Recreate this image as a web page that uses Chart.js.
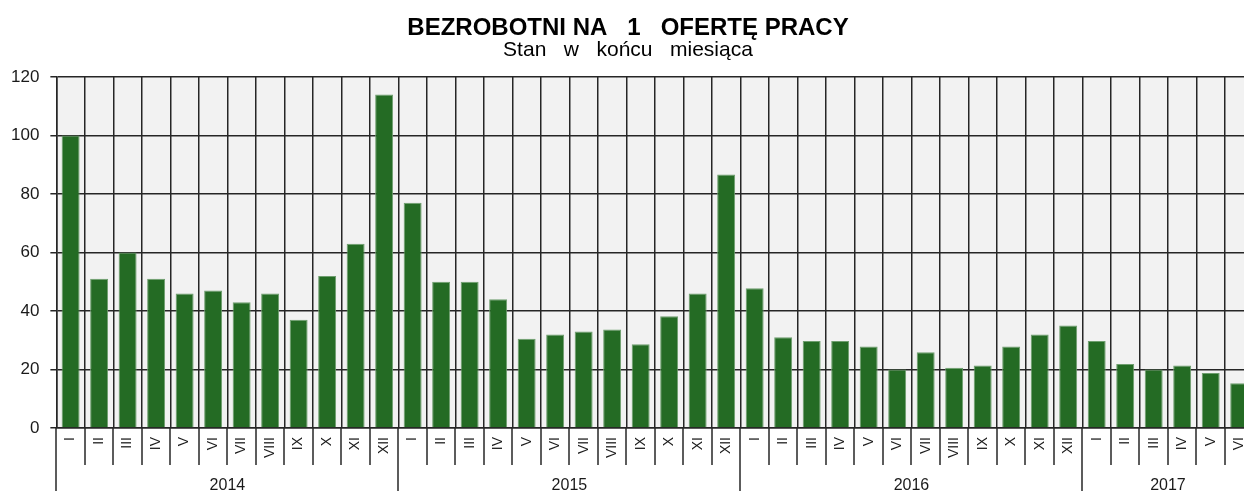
<!DOCTYPE html>
<html lang="pl">
<head>
<meta charset="utf-8">
<title>Bezrobotni na 1 ofertę pracy</title>
<script src="https://cdn.jsdelivr.net/npm/chart.js@4.4.1/dist/chart.umd.min.js"></script>
<style>
  html, body { margin: 0; padding: 0; background: #fff; overflow: hidden; }
  .frame { width: 1256px; height: 491px; position: relative; }
</style>
</head>
<body>
<div class="frame"><canvas id="chart"></canvas></div>
<script>
const romanMonths = ['I', 'II', 'III', 'IV', 'V', 'VI', 'VII', 'VIII', 'IX', 'X', 'XI', 'XII'];
const years = ['2014', '2015', '2016', '2017'];
const monthsPerYear = [12, 12, 12, 6];

const values2014 = [100, 51, 60, 51, 46, 47, 43, 46, 37, 52, 63, 114];
const values2015 = [77, 50, 50, 44, 30.5, 32, 33, 33.7, 28.6, 38.2, 46, 86.7];
const values2016 = [47.8, 31, 29.7, 29.7, 27.9, 20, 25.9, 20.6, 21.4, 27.9, 32, 35];
const values2017 = [29.7, 21.9, 20, 21.4, 18.8, 15.3];

const yMin = 0;
const yMax = 120;
const yStep = 20;

const GRID = '#262626';
const TEXT = '#1a1a1a';
const BAR = '#246b24';
const FONT = '"Liberation Sans", Arial, sans-serif';

const labels = years.flatMap((year, i) => romanMonths.slice(0, monthsPerYear[i]));
const values = [...values2014, ...values2015, ...values2016, ...values2017];

// grey plot background, painted before the grid
const plotBackground = {
  id: 'plotBackground',
  beforeDraw(chart) {
    const { ctx, chartArea } = chart;
    ctx.save();
    ctx.fillStyle = '#f2f2f2';
    ctx.fillRect(chartArea.left, chartArea.top, chartArea.right - chartArea.left, chartArea.bottom - chartArea.top);
    ctx.restore();
  }
};

// month separators below the axis, longer ones between years, year captions
const yearGroups = {
  id: 'yearGroups',
  afterDraw(chart) {
    const { ctx, chartArea, scales: { x } } = chart;
    const half = (x.getPixelForValue(1) - x.getPixelForValue(0)) / 2;
    const boundaries = new Set([0]);
    let count = 0;
    monthsPerYear.forEach(n => { count += n; boundaries.add(count); });

    ctx.save();
    ctx.strokeStyle = GRID;
    ctx.lineWidth = 1.5;
    for (let i = 0; i <= labels.length; i++) {
      const px = Math.round(x.getPixelForValue(i) - half);
      ctx.beginPath();
      ctx.moveTo(px, chartArea.bottom);
      ctx.lineTo(px, boundaries.has(i) ? chart.height : chartArea.bottom + 37);
      ctx.stroke();
    }

    ctx.fillStyle = TEXT;
    ctx.font = `16px ${FONT}`;
    ctx.textAlign = 'center';
    ctx.textBaseline = 'alphabetic';
    let start = 0;
    years.forEach((year, i) => {
      const end = start + monthsPerYear[i];
      const left = x.getPixelForValue(start) - half;
      const right = x.getPixelForValue(end - 1) + half;
      ctx.fillText(year, (left + right) / 2, chart.height - 1);
      start = end;
    });
    ctx.restore();
  }
};

Chart.defaults.font.family = FONT;
Chart.defaults.color = TEXT;

new Chart(document.getElementById('chart'), {
  type: 'bar',
  data: {
    labels,
    datasets: [{
      data: values,
      backgroundColor: BAR,
      borderColor: '#6e9e6e',
      borderWidth: 1,
      barPercentage: 0.63,
      categoryPercentage: 1
    }]
  },
  options: {
    responsive: true,
    maintainAspectRatio: false,
    animation: false,
    layout: { padding: { left: 0, right: 0, top: 0, bottom: 33 } },
    plugins: {
      legend: { display: false },
      tooltip: { enabled: false },
      title: {
        display: true,
        text: 'BEZROBOTNI NA   1   OFERTĘ PRACY',
        color: '#000',
        font: { size: 24, weight: 'bold', lineHeight: 1.0 },
        padding: { top: 16, bottom: 0 }
      },
      subtitle: {
        display: true,
        text: 'Stan   w   końcu   miesiąca',
        color: '#000',
        font: { size: 21, lineHeight: 1.0 },
        padding: { top: 0, bottom: 16 }
      }
    },
    scales: {
      x: {
        grid: { offset: true, color: GRID, lineWidth: 1.5, tickLength: 9, tickColor: 'transparent' },
        border: { color: GRID, width: 1.5 },
        ticks: { autoSkip: false, minRotation: 90, maxRotation: 90, padding: 0, font: { size: 14 }, color: TEXT }
      },
      y: {
        min: yMin,
        max: yMax,
        grid: { color: GRID, lineWidth: 1.5, tickLength: 6 },
        border: { color: GRID, width: 1.5 },
        ticks: { stepSize: yStep, padding: 11, font: { size: 17 }, color: TEXT }
      }
    }
  },
  plugins: [plotBackground, yearGroups]
});
</script>
</body>
</html>
